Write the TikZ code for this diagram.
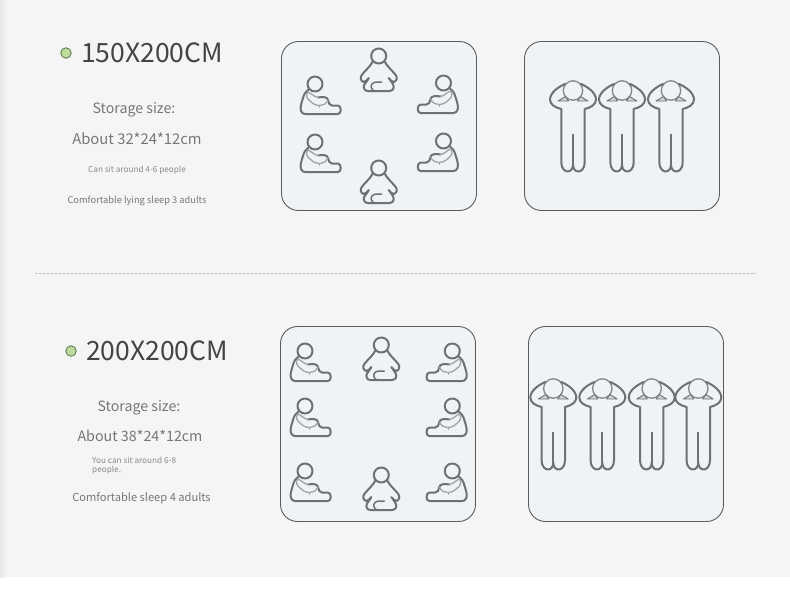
\documentclass[tikz,border=0pt]{standalone}
\usepackage{fontspec}
\setmainfont{Noto Sans CJK SC}
\definecolor{bgc}{HTML}{F5F5F5}
\definecolor{panelc}{HTML}{EFF3F6}
\definecolor{edgec}{HTML}{5A5D60}
\definecolor{iconc}{HTML}{6E7173}
\definecolor{dashc}{HTML}{C4C6C6}
\definecolor{dotc}{HTML}{BEDB9C}
\definecolor{dotl}{HTML}{5F7F55}
\definecolor{titlec}{HTML}{444444}
\definecolor{midc}{HTML}{777777}
\definecolor{smallc}{HTML}{8A8A8A}
\tikzset{
  x=1pt,y=-1pt,
  panel/.style={draw=edgec,fill=panelc,line width=0.9pt,rounded corners=17pt},
  iconline/.style={draw=iconc,line width=2pt,line cap=round,line join=round},
  thinline/.style={draw=iconc!65,line width=1.3pt,line cap=round,line join=round},
  title/.style={anchor=base west,inner sep=0pt,text=titlec,font=\fontsize{26.5}{26.5}\selectfont},
  mid/.style={anchor=base,inner sep=0pt,text=midc,font=\fontsize{14.2}{14.2}\selectfont},
  low/.style={anchor=base,inner sep=0pt,text=midc,font=\fontsize{10}{10}\selectfont},
  tiny/.style={anchor=base,inner sep=0pt,text=smallc,font=\fontsize{8.2}{8.2}\selectfont},
  dot/.style={draw=dotl,fill=dotc,line width=0.9pt,circle,minimum size=10.5pt,inner sep=0pt},
  sitter/.pic={
    \draw[iconline] (0,0) circle (7.5);
    \draw[iconline] (-6,5) .. controls (-9,7) and (-11,10) .. (-12,14)
      .. controls (-14,20) and (-15,24) .. (-14,27)
      .. controls (-13,29) and (-12,30) .. (-10,30) -- (23,30)
      .. controls (25,30) and (25.7,28) .. (25.7,26)
      .. controls (25.7,24) and (25,21.5) .. (23,21.5) -- (17,21.5)
      .. controls (14,21.5) and (14,19) .. (13,16)
      .. controls (12.5,13) and (8,12.5) .. (3,13.5);
    \draw[thinline] (-7,8) .. controls (-10,11) and (-8,15) .. (-5,17)
      .. controls (-2,20) and (1,21.5) .. (5,21.5)
      .. controls (8,21.5) and (11,20) .. (13,16);
    \draw[thinline] (-7,8) .. controls (-4,9) and (-1,13) .. (3,13.5);
    \draw[thinline,line width=0.8pt] (4,21.5) -- (4,23.5);
  },
  lotus/.pic={
    \draw[iconline] (0,0) circle (7.5);
    \draw[iconline] (-6,5.5) .. controls (-8,10) and (-13,14) .. (-17,19)
      .. controls (-19,22) and (-18,25) .. (-15,26)
      .. controls (-13,26) and (-12,24) .. (-10,22)
      .. controls (-11,25) and (-15,28) .. (-15,31)
      .. controls (-15,34) and (-13,35) .. (-11,35) -- (11,35)
      .. controls (14,35) and (15,33) .. (15,31)
      .. controls (15,28) and (12,25) .. (10,22)
      .. controls (12,24) and (13,26) .. (15,26)
      .. controls (18,25) and (19,22) .. (17,19)
      .. controls (13,14) and (8,10) .. (6,5.5);
    \draw[iconline,line width=1.5pt] (3,26) -- (-2,26) .. controls (-6,26) and (-8,29) .. (-7.5,31)
      .. controls (-7,33) and (-6,35) .. (-4,35);
  },
  stander/.pic={
    \draw[iconline,line width=1.3pt,draw=iconc!85] (0,0) circle (9.7);
    \draw[iconline] (-8,-6.5) .. controls (-14,-4) and (-23,2) .. (-23,9)
      .. controls (-23,14) and (-18,17) .. (-11.7,18.5) -- (-11.7,72)
      .. controls (-11.7,78) and (-8,81) .. (-5.5,81)
      .. controls (-2,81) and (0,78) .. (0,74)
      .. controls (0,78) and (2,81) .. (5.5,81)
      .. controls (8,81) and (11.7,78) .. (11.7,72) -- (11.7,18.5)
      .. controls (18,17) and (23,14) .. (23,9)
      .. controls (23,2) and (14,-4) .. (8,-6.5);
    \draw[iconline] (0,44) -- (0,74);
    \draw[iconline,line width=0.9pt,fill=iconc!30] (-15,10.5) -- (-7.5,6) -- (-4.5,10.5) -- cycle;
    \draw[iconline,line width=0.9pt,fill=iconc!30] (15,10.5) -- (7.5,6) -- (4.5,10.5) -- cycle;
  }
}
\begin{document}
\begin{tikzpicture}
\useasboundingbox (0,0) rectangle (790,590);
\fill[white] (0,0) rectangle (790,590);
\fill[bgc] (0,0) rectangle (790,577);
\shade[left color=black!9,right color=bgc] (0,0) rectangle (7,577);

\draw[dashc,line width=0.7pt,dash pattern=on 2.5pt off 1.5pt] (35,273.5) coordinate (ruleA) -- (756,273.5) coordinate (ruleB);

% text, upper
\node[dot] (dotA) at (66,53) {};
\node[title] (titleA) at (81,62) {150X200CM};
\node[mid] (storeA) at (134,113) {Storage size:};
\node[mid,font=\fontsize{14.8}{14.8}\selectfont] (aboutA) at (137,144) {About 32*24*12cm};
\node[tiny] (sitA) at (137,172) {Can sit around 4-6 people};
\node[low,font=\fontsize{9.3}{9.3}\selectfont] (sleepA) at (137,203) {Comfortable lying sleep 3 adults};

% text, lower
\node[dot] (dotB) at (71,351) {};
\node[title] (titleB) at (86,360) {200X200CM};
\node[mid] (storeB) at (139,411) {Storage size:};
\node[mid,font=\fontsize{14.3}{14.3}\selectfont] (aboutB) at (140,441) {About 38*24*12cm};
\node[tiny,align=left,anchor=north west,font=\fontsize{8.2}{9.2}\selectfont] (sitB) at (92,457) {You can sit around 6-8\\people.};
\node[low,font=\fontsize{11.1}{11.1}\selectfont] (sleepB) at (141.5,501) {Comfortable sleep 4 adults};

% panels
\draw[panel] (281.5,41.5) rectangle (476.5,210.5);
\draw[panel] (524.5,41.5) rectangle (719.5,210.5);
\draw[panel] (280.5,326.5) rectangle (475.5,521.5);
\draw[panel] (528.5,326.5) rectangle (723.5,521.5);

% upper seated
\pic at (315,84) {sitter};
\pic at (315,142) {sitter};
\pic[xscale=-1] at (443.5,83) {sitter};
\pic[xscale=-1] at (443.5,141) {sitter};
\pic at (378.7,56) {lotus};
\pic at (378.7,168) {lotus};

% upper standing
\pic at (573,90.5) {stander};
\pic at (622,90.5) {stander};
\pic at (671,90.5) {stander};

% lower seated
\pic at (305,351) {sitter};
\pic at (305,406) {sitter};
\pic at (305,471) {sitter};
\pic[xscale=-1] at (452.3,351) {sitter};
\pic[xscale=-1] at (452.3,406) {sitter};
\pic[xscale=-1] at (452.3,471) {sitter};
\pic at (381.3,345) {lotus};
\pic at (381.3,475) {lotus};

% lower standing
\pic at (553.3,388.5) {stander};
\pic at (602.3,388.5) {stander};
\pic at (651.7,388.5) {stander};
\pic at (698.3,388.5) {stander};
\end{tikzpicture}
\end{document}
